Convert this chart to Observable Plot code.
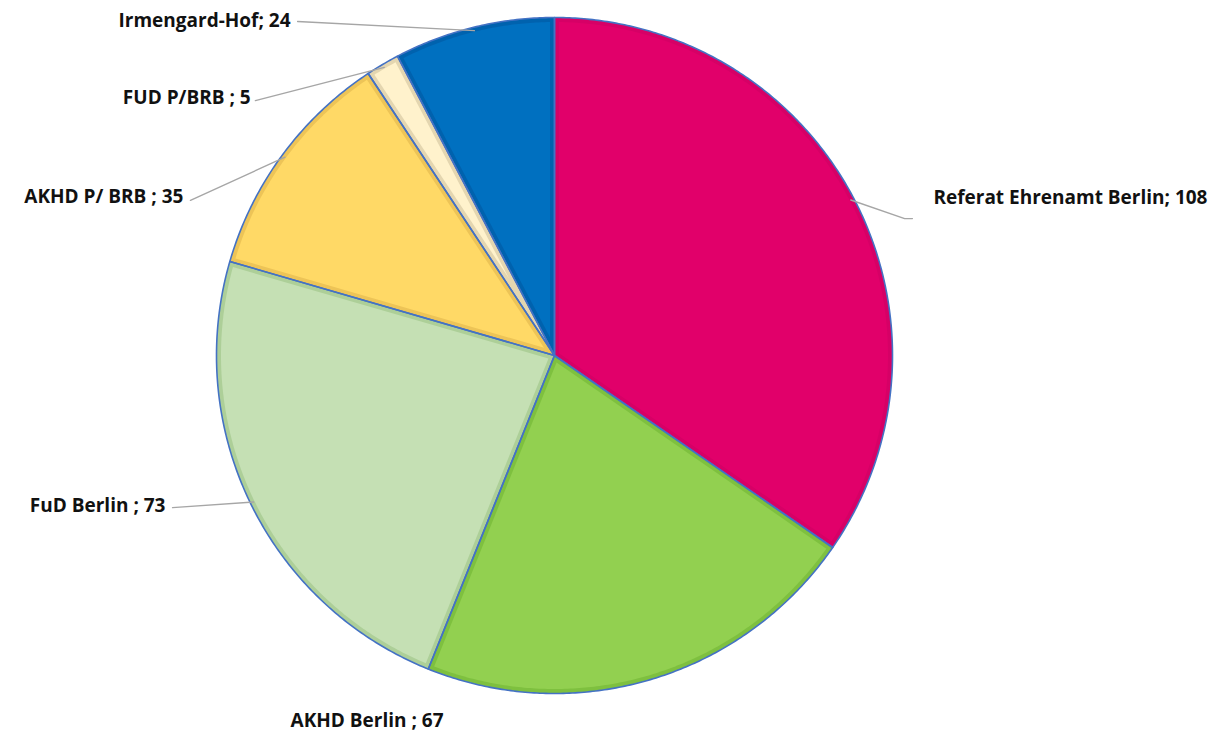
<!DOCTYPE html>
<html>
<head>
<meta charset="utf-8">
<script src="https://cdn.jsdelivr.net/npm/d3@7"></script>
<script src="https://cdn.jsdelivr.net/npm/@observablehq/plot@0.6"></script>
<style>
  html, body { margin: 0; padding: 0; background: #fff; }
  #chart { width: 1220px; height: 733px; }
</style>
</head>
<body>
<div id="chart"></div>
<script>
// ---- Data ----
const names = ["Referat Ehrenamt Berlin", "AKHD Berlin", "FuD Berlin", "AKHD P/ BRB", "FUD P/BRB", "Irmengard-Hof"];
const values = [108, 67, 73, 35, 5, 24];
const labelTexts = ["Referat Ehrenamt Berlin; 108", "AKHD Berlin ; 67", "FuD Berlin ; 73", "AKHD P/ BRB ; 35", "FUD P/BRB ; 5", "Irmengard-Hof; 24"];

// ---- Styles ----
const fillColors = ["#E1006A", "#92D050", "#C5E0B4", "#FFD966", "#FFF2CC", "#0070C0"];
const edgeColors = ["#D60066", "#7EC03F", "#ADCF98", "#EDC457", "#E4D6B0", "#0062AE"];
const outlineColor = "#4472C4";

// ---- Label layout (normalized pie units, pie radius = 1, y up) ----
const labelX = [1.121, -0.781, -1.151, -1.098, -0.899, -0.781];
const labelY = [0.467, -1.080, -0.444, 0.470, 0.763, 0.991];
const labelAnchor = ["start", "start", "end", "end", "end", "end"];
// leader line extra points (elbow/end), null = no leader line
const leaderPts = [
  [[1.036, 0.405], [1.059, 0.405]],
  null,
  [[-1.130, -0.450]],
  [[-1.077, 0.459]],
  [[-0.885, 0.754]],
  [[-0.760, 0.988]]
];

// ---- Geometry ----
const total = d3.sum(values);
const TAU = Math.PI * 2;
const pt = (a, r) => [r * Math.sin(a), r * Math.cos(a)];
const edgeW = 4.5 / 338;

const outerRows = [], innerRows = [], leaderRows = [], labelRows = [];
let cum = 0;
values.forEach((v, i) => {
  const a0 = cum / total * TAU;
  cum += v;
  const a1 = cum / total * TAU;
  // outer slice
  const n = Math.ceil((a1 - a0) / (Math.PI / 360)) + 1;
  outerRows.push({x: 0, y: 0, id: i, c: edgeColors[i]});
  for (let k = 0; k < n; k++) {
    const a = a0 + (a1 - a0) * k / (n - 1);
    const [x, y] = pt(a, 1);
    outerRows.push({x, y, id: i, c: edgeColors[i]});
  }
  // inner (inset) slice
  const h = (a1 - a0) / 2, m = (a0 + a1) / 2;
  const [ax, ay] = pt(m, edgeW / Math.sin(h));
  const R = 1 - edgeW;
  const b0 = a0 + Math.asin(edgeW / R), b1 = a1 - Math.asin(edgeW / R);
  innerRows.push({x: ax, y: ay, id: i, c: fillColors[i]});
  const n2 = Math.max(2, Math.ceil((b1 - b0) / (Math.PI / 360)) + 1);
  for (let k = 0; k < n2; k++) {
    const a = b0 + (b1 - b0) * k / (n2 - 1);
    const [x, y] = pt(a, R);
    innerRows.push({x, y, id: i, c: fillColors[i]});
  }
  // leader line
  if (leaderPts[i]) {
    const [px, py] = pt(m, 0.99);
    leaderRows.push({x: px, y: py, id: i});
    leaderPts[i].forEach(([x, y]) => leaderRows.push({x, y, id: i}));
  }
  labelRows.push({x: labelX[i], y: labelY[i], text: labelTexts[i], anchor: labelAnchor[i]});
});

const chart = Plot.plot({
  width: 1220,
  height: 733,
  margin: 0,
  style: {background: "#fff"},
  x: {domain: [-1, 1], range: [216, 892], axis: null},
  y: {domain: [-1, 1], range: [693, 17], axis: null},
  color: {type: "identity"},
  marks: [
    Plot.line(outerRows, {x: "x", y: "y", z: "id", fill: "c", stroke: null, curve: "linear-closed"}),
    Plot.line(innerRows, {x: "x", y: "y", z: "id", fill: "c", stroke: null, curve: "linear-closed"}),
    Plot.line(outerRows, {x: "x", y: "y", z: "id", fill: "none", stroke: outlineColor, strokeWidth: 1.6, strokeLinejoin: "round", curve: "linear-closed"}),
    Plot.line(leaderRows, {x: "x", y: "y", z: "id", stroke: "#A6A6A6", strokeWidth: 1.4}),
    ...["start", "end"].map(anc => Plot.text(labelRows.filter(d => d.anchor === anc), {
      x: "x", y: "y", text: "text", textAnchor: anc,
      fontSize: 19, fontWeight: "bold", fontFamily: "'Open Sans', Lato, sans-serif", fill: "#111"
    }))
  ]
});
document.getElementById("chart").appendChild(chart);
</script>
</body>
</html>
